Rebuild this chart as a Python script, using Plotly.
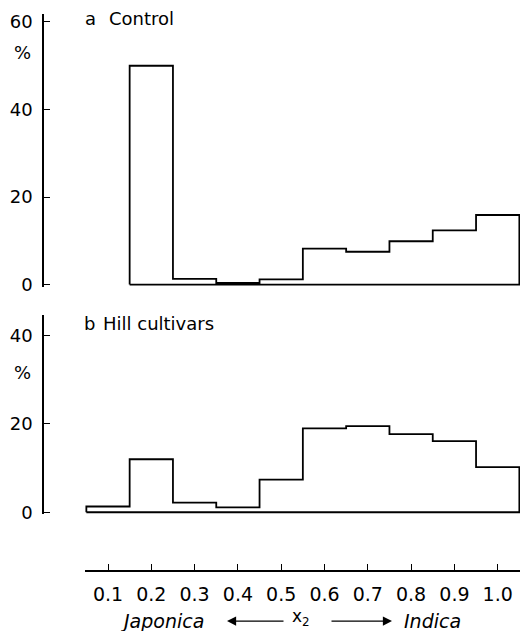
import plotly.graph_objects as go

# ---- data ----
bin_width = 0.1
control_centers = [0.2, 0.3, 0.4, 0.5, 0.6, 0.7, 0.8, 0.9, 1.0]
control_pct = [50.0, 1.3, 0.4, 1.2, 8.2, 7.5, 9.9, 12.4, 15.9]
hill_centers = [0.1, 0.2, 0.3, 0.4, 0.5, 0.6, 0.7, 0.8, 0.9, 1.0]
hill_pct = [1.3, 12.0, 2.2, 1.1, 7.4, 19.0, 19.5, 17.7, 16.1, 10.2]
x_tick_vals = [0.1, 0.2, 0.3, 0.4, 0.5, 0.6, 0.7, 0.8, 0.9, 1.0]
x_tick_text = ["0.1", "0.2", "0.3", "0.4", "0.5", "0.6", "0.7", "0.8", "0.9", "1.0"]
top_ticks = [0, 20, 40, 60]
bottom_ticks = [0, 20, 40]

W, H = 520, 631
FONT = "DejaVu Sans"


def step_outline(centers, values, width):
    """Closed histogram outline (hv steps + baseline) from bins."""
    left = [c - width / 2 for c in centers]
    right_end = centers[-1] + width / 2
    xs = [left[0]] + left + [right_end, right_end, left[0]]
    ys = [0] + list(values) + [values[-1], 0, 0]
    return xs, ys


fig = go.Figure()
xa, ya = step_outline(control_centers, control_pct, bin_width)
fig.add_trace(go.Scatter(x=xa, y=ya, mode="lines", line=dict(color="black", width=1.8, shape="hv"),
                         xaxis="x", yaxis="y", hoverinfo="skip"))
xb, yb = step_outline(hill_centers, hill_pct, bin_width)
fig.add_trace(go.Scatter(x=xb, y=yb, mode="lines", line=dict(color="black", width=1.8, shape="hv"),
                         xaxis="x", yaxis="y2", hoverinfo="skip"))

px_per_unit = 433.0
x_left_px = 85.0
x0 = 0.1 - (108.0 - x_left_px) / px_per_unit
x1 = 0.1 + (W - 108.0) / px_per_unit

# vertical calibration of the rendered page (measured: rendered = 0.984*layout + 1)
VS, VO = 0.984, 1.0


def fy(py):
    return 1 - ((py - VO) / VS) / H


axis_common = dict(showline=True, linecolor="black", linewidth=1.6, ticks="inside",
                   ticklen=6, tickwidth=1.3, tickcolor="black", showgrid=False, zeroline=False,
                   tickfont=dict(family=FONT, size=18, color="black"))

# top panel: 0 at y=283px, 60 at y=20px, axis top at 12px
top_scale = (283 - 20) / 60.0
top_lo = -0.45
# bottom panel: 0 at y=511px, 40 at y=334px, axis top at 313px
bot_scale = (511 - 334) / 40.0
bot_lo = -0.45

x_axis = dict(axis_common)
x_axis["tickfont"] = dict(family=FONT, size=19, color="black")

fig.update_layout(
    width=W, height=H, autosize=False,
    margin=dict(l=0, r=0, t=0, b=0),
    paper_bgcolor="white", plot_bgcolor="white",
    showlegend=False,
    xaxis=dict(domain=[x_left_px / W, 1], range=[x0, x1], anchor="free", position=fy(570),
               tickvals=x_tick_vals, ticktext=x_tick_text, ticklabelstandoff=6, **x_axis),
    yaxis=dict(domain=[fy(283 - top_lo * top_scale), fy(12)],
               range=[top_lo, (283 - 12) / top_scale],
               anchor="free", position=43 / W, tickvals=top_ticks, ticklabelstandoff=6,
               **axis_common),
    yaxis2=dict(domain=[fy(511 - bot_lo * bot_scale), fy(313)],
                range=[bot_lo, (511 - 313) / bot_scale],
                anchor="free", position=43 / W, tickvals=bottom_ticks, ticklabelstandoff=6,
                **axis_common),
)

ann_font = dict(family=FONT, size=18, color="black")
it_font = dict(family=FONT, size=19, color="black", style="italic")
annots = [
    dict(text="a", x=83 / W, y=fy(17), xanchor="left", font=ann_font),
    dict(text="Control", x=107 / W, y=fy(17), xanchor="left", font=ann_font),
    dict(text="b", x=82 / W, y=fy(322), xanchor="left", font=ann_font),
    dict(text="Hill cultivars", x=101 / W, y=fy(322), xanchor="left", font=ann_font),
    dict(text="%", x=22 / W, y=fy(51), xanchor="center", font=ann_font),
    dict(text="%", x=22 / W, y=fy(371), xanchor="center", font=ann_font),
    dict(text="Japonica", x=162 / W, y=fy(620), xanchor="center", font=it_font),
    dict(text="Indica", x=432 / W, y=fy(620), xanchor="center", font=it_font),
    dict(text="x<sub>2</sub>", x=301 / W, y=fy(616), xanchor="center",
         font=dict(family=FONT, size=17, color="black")),
]
for a in annots:
    fig.add_annotation(xref="paper", yref="paper", yanchor="middle", showarrow=False, **a)

# arrows
fig.add_annotation(xref="paper", yref="paper", x=227 / W, y=fy(620), ax=58, ay=0,
                   text="", showarrow=True, arrowhead=2, arrowsize=1.3, arrowwidth=1.4,
                   arrowcolor="black", axref="pixel", ayref="pixel")
fig.add_annotation(xref="paper", yref="paper", x=392 / W, y=fy(620), ax=-62, ay=0,
                   text="", showarrow=True, arrowhead=2, arrowsize=1.3, arrowwidth=1.4,
                   arrowcolor="black", axref="pixel", ayref="pixel")

fig.write_html("out.html",
               config={"responsive": False, "displayModeBar": False},
               post_script="document.body.style.margin='0';document.body.style.overflow='hidden';")
